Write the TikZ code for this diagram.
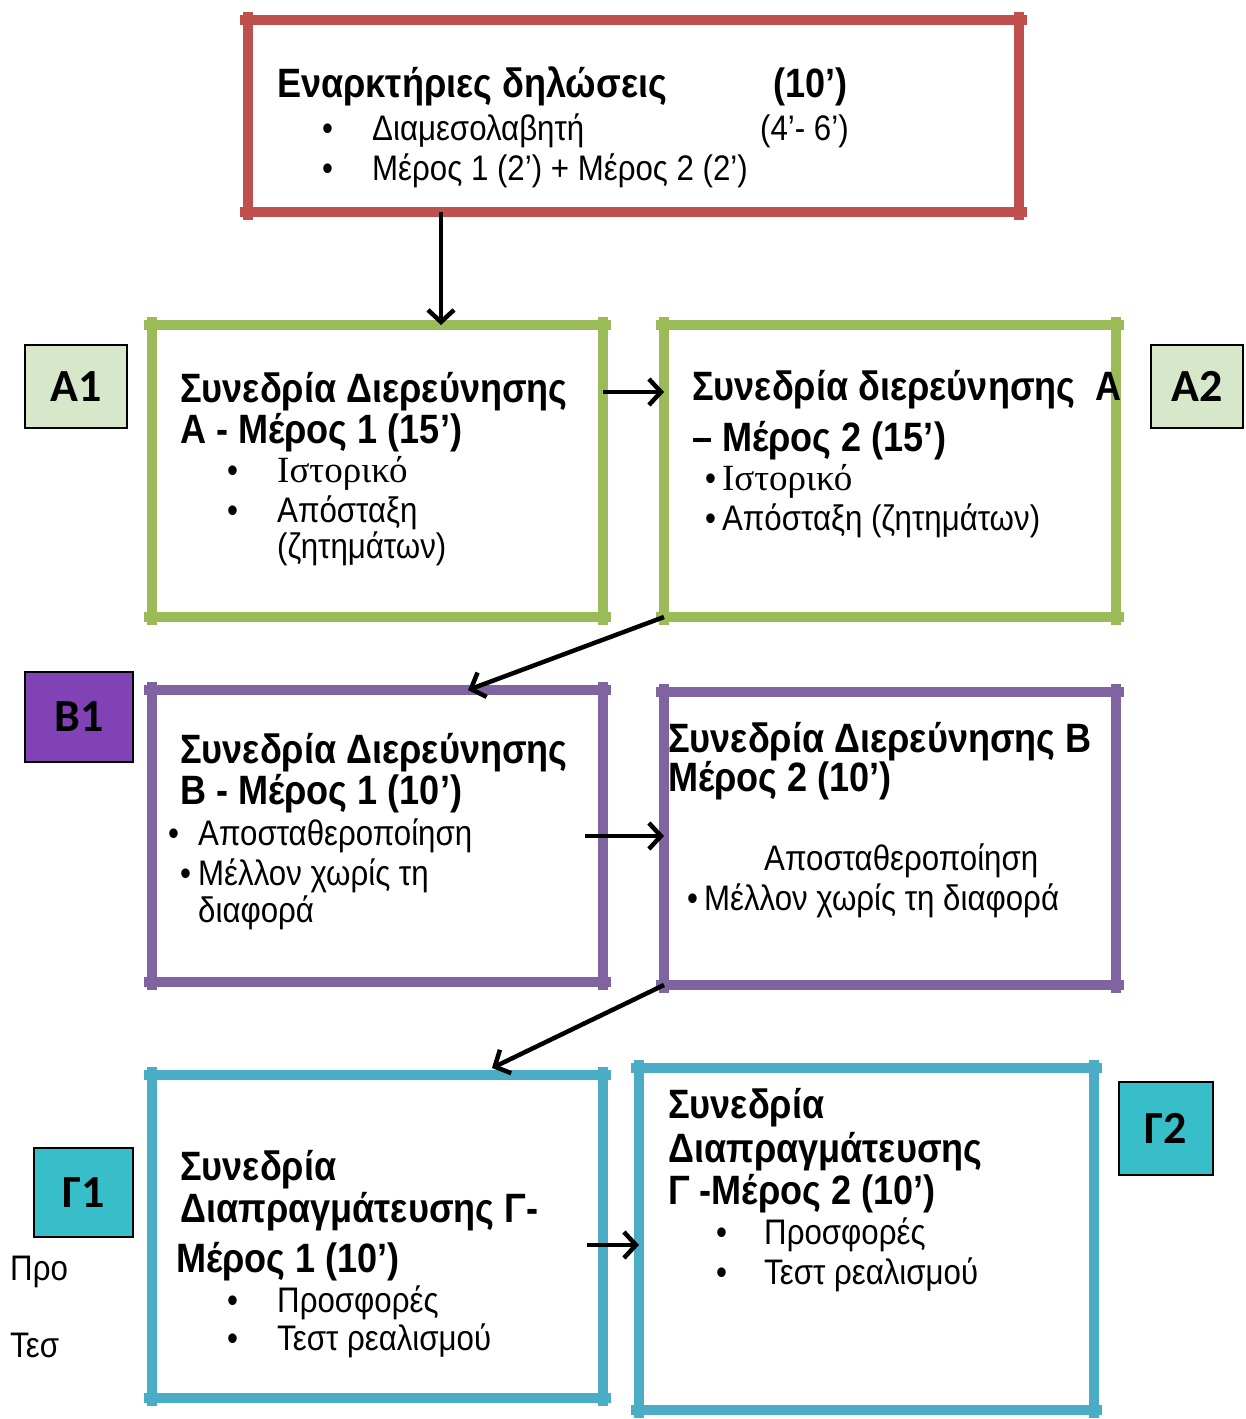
\documentclass[tikz,border=0pt]{standalone}
\usepackage{fontspec}
\setmainfont{Liberation Sans}[FakeStretch=0.88]
\newfontfamily\serifgr{Liberation Serif}
\newfontfamily\labfont{Carlito}
\usetikzlibrary{arrows.meta}
\definecolor{redfr}{RGB}{192,80,77}
\definecolor{greenfr}{RGB}{155,187,89}
\definecolor{purplefr}{RGB}{128,100,162}
\definecolor{cyanfr}{RGB}{75,172,198}
\definecolor{greenlab}{RGB}{214,232,201}
\definecolor{purplelab}{RGB}{129,66,181}
\definecolor{cyanlab}{RGB}{56,190,200}
% four overshooting sides round a box node
\newcommand\frm[2]{%
  \draw[frameline,#2] (#1.north west) -- (#1.north east);
  \draw[frameline,#2] (#1.south west) -- (#1.south east);
  \draw[frameline,#2] (#1.north west) -- (#1.south west);
  \draw[frameline,#2] (#1.north east) -- (#1.south east);}
\begin{document}
\begin{tikzpicture}[x=1pt,y=1pt,yscale=-1,xscale=1,
  frameline/.style={line width=10.5pt,shorten <=-8pt,shorten >=-8pt},
  box/.style={draw=none,inner sep=0,outer sep=0},
  hd/.style={anchor=base west,inner sep=0,font=\fontsize{41}{41}\selectfont\bfseries},
  it/.style={anchor=base west,inner sep=0,font=\fontsize{35.5}{35.5}\selectfont},
  sr/.style={anchor=base west,inner sep=0,font=\serifgr\fontsize{37}{37}\selectfont},
  lab/.style={draw=black,line width=1.2pt,inner sep=0,font=\labfont\bfseries\fontsize{46}{46}\selectfont},
  arr/.style={-{Straight Barb[length=12pt,width=26pt,line width=4.5pt]},line width=4.5pt}]
\useasboundingbox (0,0) rectangle (1245,1419);

%Boxes
\node[box,minimum width=771,minimum height=192] (top) at (633.5,116) {};
\node[box,minimum width=451,minimum height=292] (a1) at (377.5,471) {};
\node[box,minimum width=452,minimum height=292] (a2) at (890,471) {};
\node[box,minimum width=451,minimum height=292] (b1) at (377.5,836) {};
\node[box,minimum width=452,minimum height=293] (b2) at (890,838.5) {};
\node[box,minimum width=451,minimum height=323] (g1) at (377.5,1236.5) {};
\node[box,minimum width=455,minimum height=342] (g2) at (866.5,1239) {};
\frm{top}{redfr}
\frm{a1}{greenfr}
\frm{a2}{greenfr}
\frm{b1}{purplefr}
\frm{b2}{purplefr}
\frm{g1}{cyanfr}
\frm{g2}{cyanfr}

%Side labels
\node[lab,fill=greenlab,minimum width=102,minimum height=83] (la1) at (76,386.5) {Α1};
\node[lab,fill=greenlab,minimum width=92,minimum height=83] (la2) at (1197,386.5) {Α2};
\node[lab,fill=purplelab,minimum width=108,minimum height=90] (lb1) at (79,717) {Β1};
\node[lab,fill=cyanlab,minimum width=99,minimum height=89] (lg1) at (83.5,1192.5) {Γ1};
\node[lab,fill=cyanlab,minimum width=94,minimum height=93] (lg2) at (1166,1128.5) {Γ2};

%Text: opening statements
\node[hd] (t0) at (277,97) {Εναρκτήριες δηλώσεις};
\node[hd] (t0m) at (773,97) {(10’)};
\node[it] (t0b1) at (322,140) {•};
\node[it] (t0i1) at (372,140) {Διαμεσολαβητή};
\node[it] (t0m1) at (760,140) {(4’- 6’)};
\node[it] (t0b2) at (322,180) {•};
\node[it] (t0i2) at (372,180) {Μέρος 1 (2’) + Μέρος 2 (2’)};

%Text: A1
\node[hd] (ta1) at (180,402) {Συνεδρία Διερεύνησης};
\node[hd] (ta1b) at (180,443) {Α - Μέρος 1 (15’)};
\node[it] (ta1d1) at (227,482) {•};
\node[sr] (ta1i1) at (277,482) {Ιστορικό};
\node[it] (ta1d2) at (227,522) {•};
\node[it] (ta1i2) at (277,522) {Απόσταξη};
\node[it] (ta1i3) at (277,558) {(ζητημάτων)};

%Text: A2
\node[hd] (ta2) at (692,400) {Συνεδρία διερεύνησης~ Α};
\node[hd] (ta2b) at (692,451) {– Μέρος 2 (15’)};
\node[it] (ta2i1) at (705,490) {•\,\serifgr\fontsize{37}{37}\selectfont Ιστορικό};
\node[it] (ta2i2) at (705,530) {•\,Απόσταξη (ζητημάτων)};

%Text: B1
\node[hd] (tb1) at (180,763) {Συνεδρία Διερεύνησης};
\node[hd] (tb1b) at (180,804) {Β - Μέρος 1 (10’)};
\node[it] (tb1d1) at (168,845) {•};
\node[it] (tb1i1) at (198,845) {Αποσταθεροποίηση};
\node[it] (tb1d2) at (180,885) {•};
\node[it] (tb1i2) at (198,885) {Μέλλον χωρίς τη};
\node[it] (tb1i3) at (198,922) {διαφορά};

%Text: B2
\node[hd] (tb2) at (668,752) {Συνεδρία Διερεύνησης Β};
\node[hd] (tb2b) at (668,791) {Μέρος 2 (10’)};
\node[it] (tb2i1) at (764,870) {Αποσταθεροποίηση};
\node[it] (tb2i2) at (687,910) {•\,Μέλλον χωρίς τη διαφορά};

%Text: G1
\node[hd] (tg1) at (180,1180) {Συνεδρία};
\node[hd] (tg1b) at (180,1222) {Διαπραγμάτευσης Γ-};
\node[hd] (tg1c) at (176,1272) {Μέρος 1 (10’)};
\node[it] (tg1d1) at (227,1312) {•};
\node[it] (tg1i1) at (277,1312) {Προσφορές};
\node[it] (tg1d2) at (227,1350) {•};
\node[it] (tg1i2) at (277,1350) {Τεστ ρεαλισμού};

%Text: G2
\node[hd] (tg2) at (668,1118) {Συνεδρία};
\node[hd] (tg2b) at (668,1162) {Διαπραγμάτευσης};
\node[hd] (tg2c) at (668,1204) {Γ -Μέρος 2 (10’)};
\node[it] (tg2d1) at (716,1244) {•};
\node[it] (tg2i1) at (764,1244) {Προσφορές};
\node[it] (tg2d2) at (716,1284) {•};
\node[it] (tg2i2) at (764,1284) {Τεστ ρεαλισμού};

%Stray text at left
\node[it] (tp) at (10,1280) {Προ};
\node[it] (tt) at (10,1357) {Τεσ};

%Arrows
\coordinate (ca) at (441,0);
\coordinate (ra) at (0,392);
\coordinate (cb) at (468,0);
\coordinate (rb) at (585,836);
\coordinate (cg) at (492,1068);
\coordinate (rg) at (587,1245);
\draw[arr] (top.south -| ca) -- (a1.north -| ca);
\draw[arr] (a1.east |- ra) -- (a2.west |- ra);
\draw[arr] (a2.south west) -- (b1.north -| cb);
\draw[arr] (rb) -- (b2.west |- rb);
\draw[arr] (b2.south west) -- (cg);
\draw[arr] (rg) -- (g2.west |- rg);

\end{tikzpicture}
\end{document}
